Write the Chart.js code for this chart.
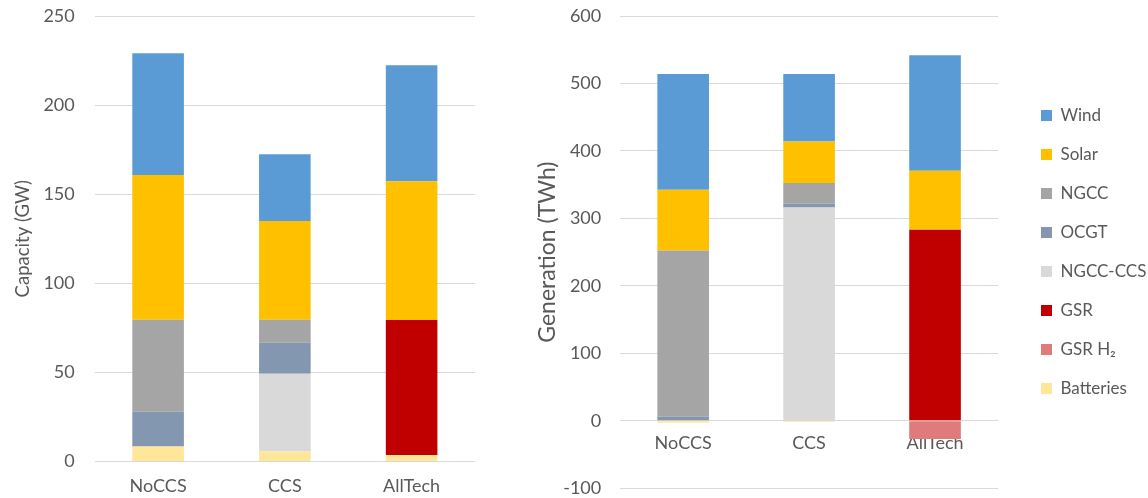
<!DOCTYPE html>
<html>
<head>
<meta charset="utf-8">
<script src="https://cdn.jsdelivr.net/npm/chart.js@4/dist/chart.umd.min.js"></script>
<style>
  html, body { margin: 0; padding: 0; background: #ffffff; overflow: hidden; width: 1148px; height: 498px; }
  #wrapL { position: absolute; left: 0; top: 0; width: 490px; height: 511px; }
  #wrapR { position: absolute; left: 530px; top: 0; width: 618px; height: 499px; }
</style>
</head>
<body>
<div id="wrapL"><canvas id="capChart"></canvas></div>
<div id="wrapR"><canvas id="genChart"></canvas></div>
<script>
// ---- Data ----
const scenarios = ['NoCCS', 'CCS', 'AllTech'];
const seriesNames = ['Batteries', 'GSR H\u2082', 'GSR', 'NGCC-CCS', 'OCGT', 'NGCC', 'Solar', 'Wind'];
const seriesColors = ['#FFE699', '#E07B7B', '#C00000', '#D9D9D9', '#8497B0', '#A5A5A5', '#FFC000', '#5B9BD5'];

// Capacity (GW)
const capBatteries = [8.4, 5.6, 3.6];
const capGSRH2     = [0, 0, 0];
const capGSR       = [0, 0, 75.8];
const capNGCCCCS   = [0, 43.6, 0];
const capOCGT      = [19.5, 17.4, 0];
const capNGCC      = [51.6, 12.9, 0];
const capSolar     = [81.2, 55.4, 77.8];
const capWind      = [68.4, 37.5, 65.2];

// Generation (TWh)
const genBatteries = [-3, -2, 0];
const genGSRH2     = [0, 0, -27];
const genGSR       = [0, 0, 283];
const genNGCCCCS   = [0, 316, 0];
const genOCGT      = [6, 6, 0];
const genNGCC      = [246.5, 30.5, 0];
const genSolar     = [90, 61.5, 87.5];
const genWind      = [171.5, 100, 171.5];

// Axis settings
const capTicks = { min: 0, max: 250, step: 50 };
const genTicks = { min: -100, max: 600, step: 100 };

const capSeries = [capBatteries, capGSRH2, capGSR, capNGCCCCS, capOCGT, capNGCC, capSolar, capWind];
const genSeries = [genBatteries, genGSRH2, genGSR, genNGCCCCS, genOCGT, genNGCC, genSolar, genWind];

const FONT = 'Lato, "Open Sans", sans-serif';
const TXT = '#595959';
const GRID = '#D9D9D9';

function makeDatasets(values, barPct) {
  return seriesNames.map((name, i) => ({
    label: name,
    data: values[i],
    backgroundColor: seriesColors[i],
    borderWidth: 0,
    barPercentage: barPct,
    categoryPercentage: 1.0,
    stack: 's'
  }));
}

// spacer box between plot area and legend
const legendGap = {
  id: 'legendGap',
  beforeInit(chart, args, opts) {
    const gapW = opts.width || 0;
    const box = {
      position: 'right', weight: 500, fullSize: false, options: {},
      width: 0, height: 0, left: 0, top: 0, right: 0, bottom: 0,
      isHorizontal() { return false; },
      update(maxWidth, maxHeight) { this.width = gapW; this.height = maxHeight; },
      draw() {}
    };
    Chart.layouts.addBox(chart, box);
  }
};

// ---- Capacity chart ----
new Chart(document.getElementById('capChart'), {
  type: 'bar',
  data: { labels: scenarios, datasets: makeDatasets(capSeries, 0.407) },
  options: {
    responsive: true,
    maintainAspectRatio: false,
    animation: false,
    layout: { padding: { left: 4, top: 16, right: 15, bottom: 0 } },
    plugins: { legend: { display: false }, tooltip: { enabled: false } },
    scales: {
      x: {
        stacked: true,
        grid: { display: false, drawTicks: false },
        border: { display: false },
        ticks: { color: TXT, font: { family: FONT, size: 18 }, padding: 14 }
      },
      y: {
        stacked: true,
        min: capTicks.min, max: capTicks.max,
        grid: { color: GRID, lineWidth: 1, drawTicks: true, tickLength: 20, tickColor: 'rgba(0,0,0,0)' },
        border: { display: false },
        ticks: { stepSize: capTicks.step, color: TXT, font: { family: FONT, size: 18 }, padding: 0 },
        title: { display: true, text: 'Capacity (GW)', color: TXT, font: { family: FONT, size: 18.5 }, padding: { top: 7.9, bottom: 9.3 } }
      }
    }
  }
});

// ---- Generation chart ----
new Chart(document.getElementById('genChart'), {
  type: 'bar',
  data: { labels: scenarios, datasets: makeDatasets(genSeries, 0.41) },
  plugins: [legendGap],
  options: {
    responsive: true,
    maintainAspectRatio: false,
    animation: false,
    layout: { padding: { left: 0, top: 16, right: 0, bottom: 0 } },
    plugins: {
      legendGap: { width: 21 },
      tooltip: { enabled: false },
      legend: {
        display: true,
        position: 'right',
        fullSize: false,
        reverse: true,
        maxWidth: 129,
        labels: {
          color: TXT,
          font: { family: FONT, size: 17 },
          boxWidth: 11,
          boxHeight: 11,
          padding: 22
        }
      }
    },
    scales: {
      x: {
        stacked: true,
        position: { y: 0 },
        grid: { display: false, drawTicks: false },
        border: { display: false },
        ticks: { color: TXT, font: { family: FONT, size: 18 }, padding: 12 }
      },
      y: {
        stacked: true,
        min: genTicks.min, max: genTicks.max,
        grid: { color: GRID, lineWidth: 1, drawTicks: true, tickLength: 19, tickColor: 'rgba(0,0,0,0)' },
        border: { display: false },
        ticks: { stepSize: genTicks.step, color: TXT, font: { family: FONT, size: 18 }, padding: 0 },
        title: { display: true, text: 'Generation (TWh)', color: TXT, font: { family: FONT, size: 23 }, padding: { top: 3.7, bottom: 1.9 } }
      }
    }
  }
});
</script>
</body>
</html>
